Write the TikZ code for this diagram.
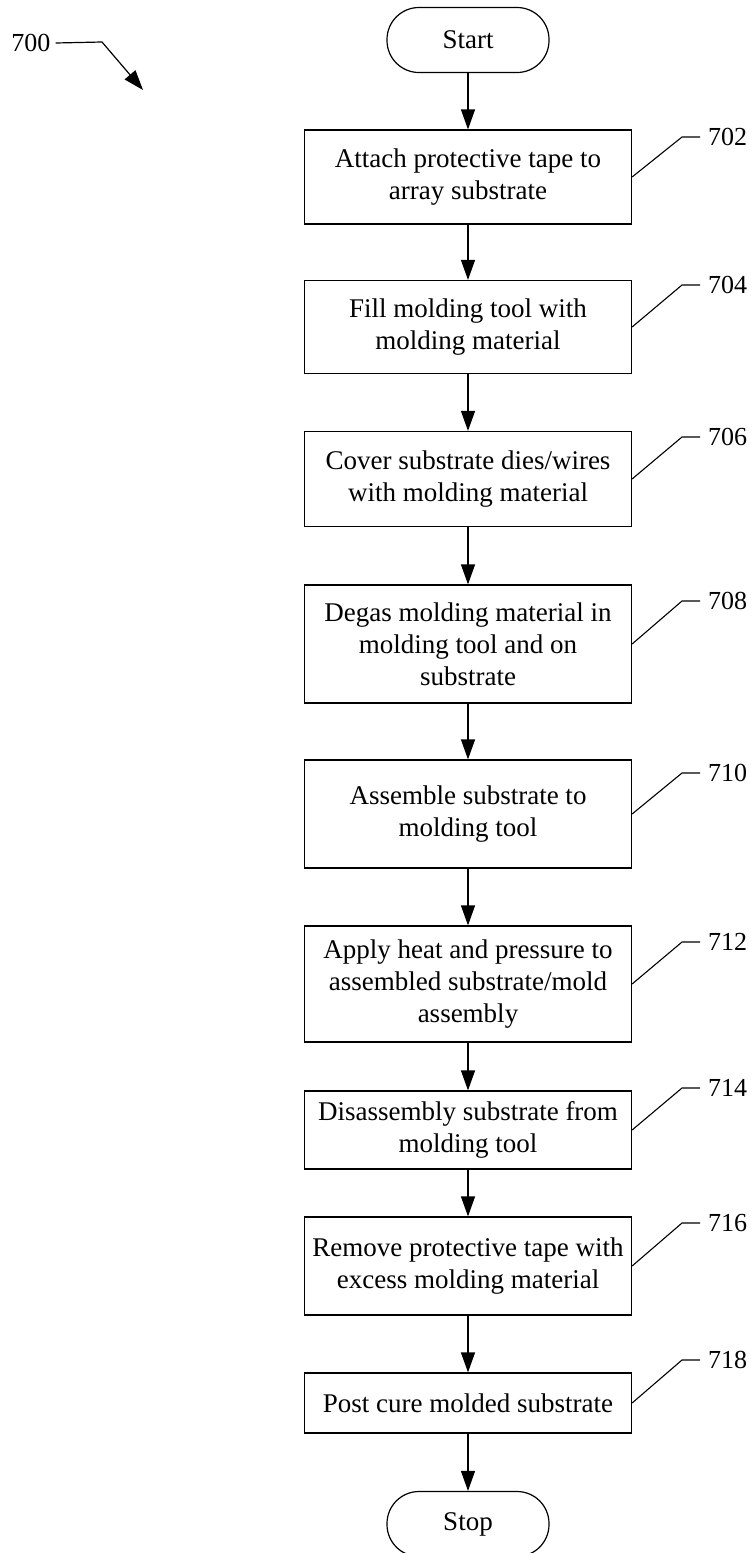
\documentclass[tikz,border=0pt]{standalone}
\usepackage{fontspec}
\setmainfont{Liberation Serif}
\usetikzlibrary{arrows.meta}

\begin{document}
\begin{tikzpicture}[x=1pt,y=-1pt]
     % Define styles
     \tikzstyle{stepbox} = [draw, line width=1.2pt, minimum width=327pt, align=center, inner sep=0pt, font=\fontsize{27}{32}\selectfont]
     \tikzstyle{terminal} = [draw, line width=1.2pt, rounded corners=32pt, minimum width=162pt, minimum height=65pt, font=\fontsize{27}{32}\selectfont]
     \tikzstyle{flow} = [line width=1.2pt, -{Triangle[length=20pt,width=14pt]}]
     \tikzstyle{leader} = [line width=1.1pt]
     \tikzstyle{refnum} = [right, inner xsep=8pt, inner ysep=0pt, font=\fontsize{26}{30}\selectfont]

     \useasboundingbox (0,0) rectangle (753,1553);

     % Figure number
     \node[inner xsep=5pt, font=\fontsize{26}{30}\selectfont] (l700) at (31,43) {700};
     \coordinate (k700) at (102,42);
     \coordinate (t700) at (143,90);
     \draw[flow] (l700.east) -- (k700) -- (t700);

     % Start and Stop
     \node[terminal] (start) at (468,40) {Start};
     \node[terminal] (stop) at (468,1524) {Stop};

     % Steps
     \node[stepbox, minimum height=94pt]  (s702) at (468,177)  {Attach protective tape to\\array substrate};
     \node[stepbox, minimum height=93pt]  (s704) at (468,327)  {Fill molding tool with\\molding material};
     \node[stepbox, minimum height=95pt]  (s706) at (468,479)  {Cover substrate dies/wires\\with molding material};
     \node[stepbox, minimum height=118pt] (s708) at (468,644)  {Degas molding material in\\molding tool and on\\substrate};
     \node[stepbox, minimum height=108pt] (s710) at (468,814)  {Assemble substrate to\\molding tool};
     \node[stepbox, minimum height=116pt] (s712) at (468,984)  {Apply heat and pressure to\\assembled substrate/mold\\assembly};
     \node[stepbox, minimum height=78pt]  (s714) at (468,1130) {Disassembly substrate from\\molding tool};
     \node[stepbox, minimum height=98pt]  (s716) at (468,1266) {Remove protective tape with\\excess molding material};
     \node[stepbox, minimum height=60pt]  (s718) at (468,1403) {Post cure molded substrate};

     % Flow arrows
     \foreach \a/\b in {start/s702, s702/s704, s704/s706, s706/s708, s708/s710,
                        s710/s712, s712/s714, s714/s716, s716/s718, s718/stop} {
          \draw[flow] (\a) -- (\b);
     }

     % Reference numbers
     \foreach \n/\ly in {702/137, 704/285, 706/437, 708/601, 710/773,
                         712/942, 714/1088, 716/1223, 718/1360} {
          \coordinate (k\n) at (682,\ly);
          \node[refnum] (l\n) at (700,\ly) {\n};
          \draw[leader] (s\n.east) -- (k\n) -- (l\n.west);
     }

\end{tikzpicture}
\end{document}
